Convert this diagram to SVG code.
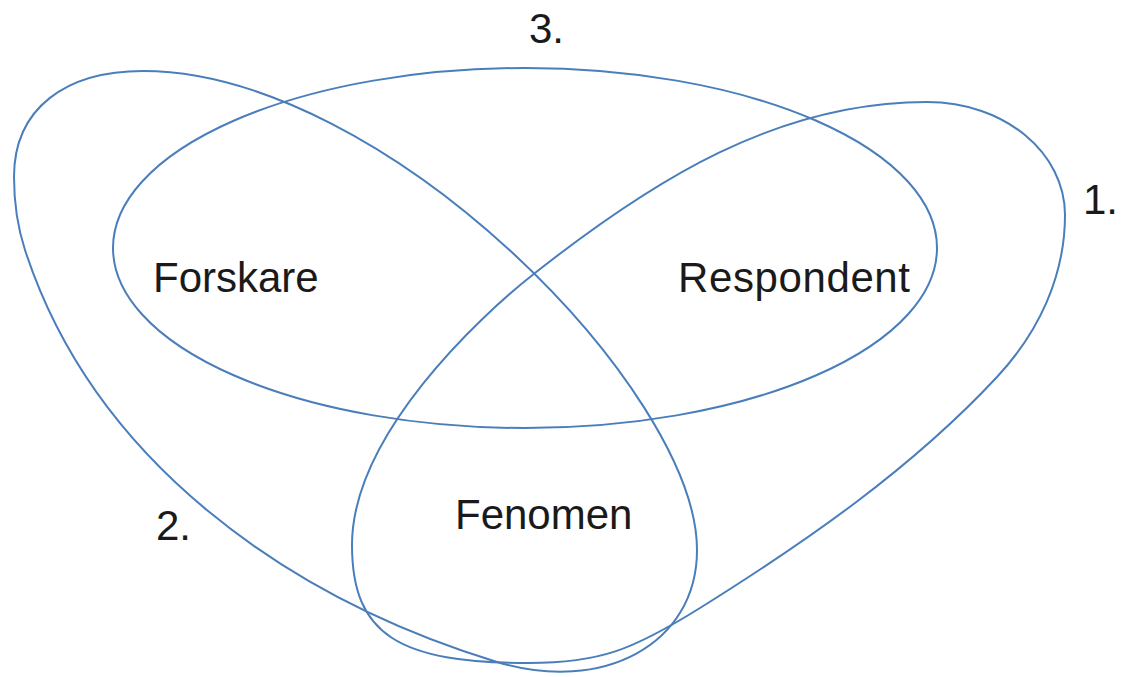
<svg xmlns="http://www.w3.org/2000/svg" width="1124" height="677" viewBox="0 0 1124 677">
  <style>
    .shape { fill: none; stroke: #4a7ebb; stroke-width: 2; }
    .lbl { font-family: "Liberation Sans", Arial, sans-serif; font-size: 42px; fill: #1a1a1a; }
  </style>
  <rect width="1124" height="677" fill="#ffffff"/>
  <g id="shape-3">
    <ellipse class="shape" cx="525" cy="248" rx="412" ry="180"/>
    <text class="lbl" x="529" y="43">3.</text>
  </g>
  <g id="shape-2">
    <path class="shape" d="M 25,250 C 93.5,460 285.7,597.5 497,662 C 602,694 697,645 697,550 C 697,390 383,71 143,71 C 66,71 14,108 14,177 C 14,202 17.3,226.3 25,250 Z"/>
    <text class="lbl" x="156" y="540">2.</text>
  </g>
  <g id="shape-1">
    <path class="shape" d="M 352,545 C 352,435 480,316 535,273 C 653,180 777,102 927,102 C 1005,102 1065,153 1065,215 C 1065,276 1038.7,332.3 997,377 C 911.2,469 806.7,541.3 700,608 C 632,650.4 599,663 529,663 C 399,663 352,635 352,545 Z"/>
    <text class="lbl" x="1083" y="214">1.</text>
  </g>
  <g id="labels">
    <text class="lbl" x="153" y="292">Forskare</text>
    <text class="lbl" x="678" y="292" textLength="232">Respondent</text>
    <text class="lbl" x="455" y="529">Fenomen</text>
  </g>
</svg>
